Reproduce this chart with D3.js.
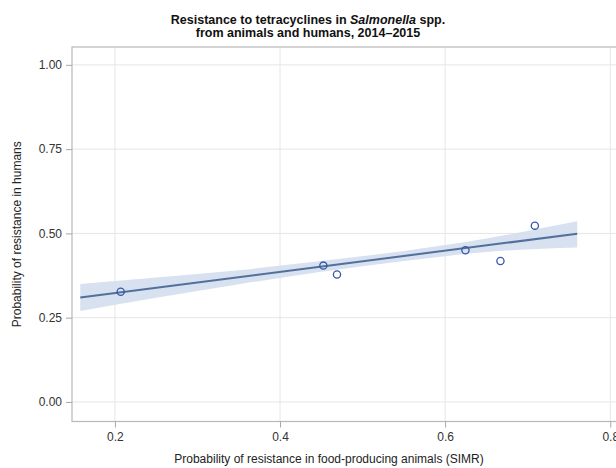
<!DOCTYPE html>
<html>
<head>
<meta charset="utf-8">
<script src="https://cdn.jsdelivr.net/npm/d3@7"></script>
<style>
  body { margin: 0; background: #fff; }
  svg { display: block; font-family: "Liberation Sans", Arial, sans-serif; }
</style>
</head>
<body>
<svg id="chart" width="616" height="468"></svg>
<script>
// data
const animalRes = [0.207, 0.4525, 0.469, 0.6246, 0.667, 0.7087]
const humanRes = [0.327, 0.4045, 0.378, 0.450, 0.418, 0.523]

// fitted line (start/end)
const fitX = [0.158, 0.76]
const fitY = [0.310, 0.499]

// confidence band
const bandX = [0.158, 0.25, 0.35, 0.45, 0.55, 0.65, 0.76]
const bandLow = [0.270, 0.309, 0.349, 0.386, 0.418, 0.445, 0.458]
const bandHigh = [0.350, 0.369, 0.391, 0.418, 0.448, 0.485, 0.536]

const xTicks = [0.2, 0.4, 0.6, 0.8]
const yTicks = [0, 0.25, 0.5, 0.75, 1]

const svg = d3.select('#chart')
const plotL = 72, plotT = 47, plotB = 421.5, plotR = 635

const x = d3.scaleLinear().domain([0.148, 0.83]).range([plotL, plotR])
const y = d3.scaleLinear().domain([-0.058, 1.053]).range([plotB, plotT])

// grid
const grid = svg.append('g').attr('class', 'grid')
grid.selectAll('line.gx').data(xTicks).join('line')
  .attr('class', 'gx')
  .attr('x1', (d) => x(d)).attr('x2', (d) => x(d))
  .attr('y1', plotT).attr('y2', plotB)
  .attr('stroke', '#e6e6e6').attr('stroke-width', 1)
grid.selectAll('line.gy').data(yTicks).join('line')
  .attr('class', 'gy')
  .attr('x1', plotL).attr('x2', plotR)
  .attr('y1', (d) => y(d)).attr('y2', (d) => y(d))
  .attr('stroke', '#e6e6e6').attr('stroke-width', 1)

// band
const band = d3.area()
  .x((d, i) => x(bandX[i]))
  .y0((d, i) => y(bandLow[i]))
  .y1((d, i) => y(bandHigh[i]))
  .curve(d3.curveMonotoneX)
svg.append('path')
  .datum(bandX)
  .attr('d', band)
  .attr('fill', '#d3deee')
  .attr('opacity', 0.9)

// fit line
const line = d3.line()
  .x((d, i) => x(fitX[i]))
  .y((d) => y(d))
svg.append('path')
  .datum(fitY)
  .attr('d', line)
  .attr('fill', 'none')
  .attr('stroke', '#52709c')
  .attr('stroke-width', 2)

// points
svg.append('g').selectAll('circle').data(animalRes).join('circle')
  .attr('cx', (d) => x(d))
  .attr('cy', (d, i) => y(humanRes[i]))
  .attr('r', 3.6)
  .attr('fill', 'none')
  .attr('stroke', '#3557a8')
  .attr('stroke-width', 1.3)

// frame
svg.append('rect')
  .attr('x', plotL).attr('y', plotT)
  .attr('width', plotR - plotL).attr('height', plotB - plotT)
  .attr('fill', 'none')
  .attr('stroke', '#b8b8b8').attr('stroke-width', 1.2)

// axes
const xAxis = svg.append('g')
  .attr('transform', `translate(0,${plotB})`)
  .call(d3.axisBottom(x).tickValues(xTicks).tickFormat(d3.format('.1f')).tickSize(6).tickPadding(5))
const yAxis = svg.append('g')
  .attr('transform', `translate(${plotL},0)`)
  .call(d3.axisLeft(y).tickValues(yTicks).tickFormat(d3.format('.2f')).tickSize(6).tickPadding(4))
;[xAxis, yAxis].forEach((g) => {
  g.select('.domain').remove()
  g.selectAll('.tick line').attr('stroke', '#a8a8a8')
  g.selectAll('.tick text')
    .attr('fill', '#333')
    .attr('font-size', 12)
    .attr('font-family', '"Liberation Sans", Arial, sans-serif')
})

// title
const title = svg.append('text')
  .attr('text-anchor', 'middle')
  .attr('font-size', 12.5)
  .attr('font-weight', 'bold')
  .attr('fill', '#111')
title.append('tspan').attr('x', 308).attr('y', 24).text('Resistance to tetracyclines in ')
title.append('tspan').attr('font-style', 'italic').text('Salmonella')
title.append('tspan').text(' spp.')
svg.append('text')
  .attr('x', 308).attr('y', 37)
  .attr('text-anchor', 'middle')
  .attr('font-size', 12.5)
  .attr('font-weight', 'bold')
  .attr('fill', '#111')
  .text('from animals and humans, 2014\u20132015')

// axis labels
svg.append('text')
  .attr('x', 329).attr('y', 463)
  .attr('text-anchor', 'middle')
  .attr('font-size', 12)
  .attr('fill', '#222')
  .text('Probability of resistance in food-producing animals (SIMR)')
svg.append('text')
  .attr('transform', `translate(21,${(plotT + plotB) / 2}) rotate(-90)`)
  .attr('text-anchor', 'middle')
  .attr('font-size', 12)
  .attr('fill', '#222')
  .text('Probability of resistance in humans')
</script>
</body>
</html>
